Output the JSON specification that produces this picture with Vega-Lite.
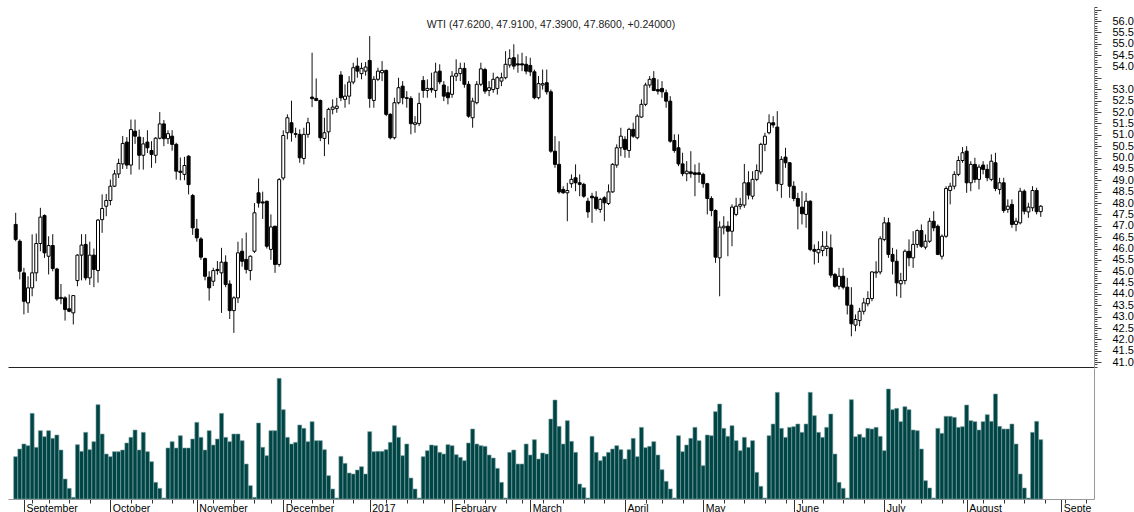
{
  "$schema": "https://vega.github.io/schema/vega-lite/v6.json",
  "padding": {"left": 8, "top": 6, "right": 0, "bottom": 0},
  "background": "white",
  "spacing": 0,
  "config": {
    "view": {"stroke": null},
    "axis": {"grid": false, "title": null, "labelFont": "Liberation Sans", "labelColor": "#000", "labelOverlap": false, "labelFlush": false, "labelBound": false}
  },
  "datasets": {
    "wti": [
      {"day":-2,"open":47.06,"high":47.57,"low":46.32,"close":46.40,"volume":127},
      {"day":-1,"open":46.32,"high":46.40,"low":44.64,"close":45.00,"volume":150},
      {"day":0,"open":44.93,"high":45.15,"low":43.10,"close":43.68,"volume":165},
      {"day":1,"open":43.61,"high":44.78,"low":43.17,"close":44.27,"volume":160},
      {"day":2,"open":44.27,"high":46.62,"low":43.90,"close":44.93,"volume":257},
      {"day":3,"open":44.93,"high":46.66,"low":44.56,"close":46.22,"volume":155},
      {"day":4,"open":46.22,"high":47.79,"low":45.88,"close":47.38,"volume":205},
      {"day":5,"open":47.45,"high":47.50,"low":45.59,"close":45.81,"volume":187},
      {"day":6,"open":45.66,"high":46.54,"low":44.86,"close":46.13,"volume":205},
      {"day":7,"open":46.13,"high":46.63,"low":45.00,"close":45.12,"volume":182},
      {"day":8,"open":45.10,"high":45.15,"low":43.70,"close":43.78,"volume":192},
      {"day":9,"open":43.80,"high":44.44,"low":43.55,"close":43.85,"volume":147},
      {"day":10,"open":43.83,"high":43.90,"low":42.83,"close":43.32,"volume":60},
      {"day":11,"open":43.35,"high":43.98,"low":43.20,"close":43.24,"volume":32},
      {"day":12,"open":43.17,"high":43.95,"low":42.66,"close":43.93,"volume":5},
      {"day":13,"open":44.59,"high":45.75,"low":44.34,"close":45.71,"volume":163},
      {"day":14,"open":45.71,"high":46.63,"low":44.60,"close":46.15,"volume":143},
      {"day":15,"open":46.18,"high":46.63,"low":44.60,"close":44.71,"volume":200},
      {"day":16,"open":44.71,"high":46.30,"low":44.40,"close":45.71,"volume":148},
      {"day":17,"open":45.71,"high":46.00,"low":44.30,"close":45.08,"volume":172},
      {"day":18,"open":45.03,"high":47.30,"low":44.50,"close":47.25,"volume":283},
      {"day":19,"open":47.27,"high":48.38,"low":46.69,"close":47.76,"volume":195},
      {"day":20,"open":47.86,"high":48.40,"low":47.42,"close":48.11,"volume":135},
      {"day":21,"open":48.11,"high":49.03,"low":47.90,"close":48.74,"volume":127},
      {"day":22,"open":48.74,"high":49.45,"low":48.70,"close":49.28,"volume":142},
      {"day":23,"open":49.28,"high":49.95,"low":49.10,"close":49.74,"volume":142},
      {"day":24,"open":49.72,"high":50.95,"low":49.50,"close":50.62,"volume":147},
      {"day":25,"open":50.68,"high":50.90,"low":49.50,"close":49.67,"volume":168},
      {"day":26,"open":49.67,"high":51.67,"low":49.25,"close":51.23,"volume":185},
      {"day":27,"open":51.16,"high":51.67,"low":50.60,"close":50.94,"volume":207},
      {"day":28,"open":50.90,"high":51.23,"low":49.47,"close":50.10,"volume":147},
      {"day":29,"open":50.10,"high":50.90,"low":49.47,"close":50.60,"volume":200},
      {"day":30,"open":50.68,"high":51.20,"low":50.20,"close":50.43,"volume":142},
      {"day":31,"open":50.31,"high":50.72,"low":49.55,"close":50.14,"volume":112},
      {"day":32,"open":50.10,"high":50.90,"low":49.75,"close":50.85,"volume":50},
      {"day":33,"open":50.85,"high":52.00,"low":50.80,"close":51.48,"volume":32},
      {"day":34,"open":51.48,"high":51.65,"low":50.50,"close":50.83,"volume":3},
      {"day":35,"open":50.83,"high":51.20,"low":50.60,"close":51.05,"volume":153},
      {"day":36,"open":50.94,"high":51.20,"low":50.30,"close":50.58,"volume":172},
      {"day":37,"open":50.58,"high":50.65,"low":49.03,"close":49.40,"volume":153},
      {"day":38,"open":49.40,"high":50.00,"low":49.00,"close":49.35,"volume":190},
      {"day":39,"open":49.26,"high":50.03,"low":49.00,"close":49.65,"volume":153},
      {"day":40,"open":50.06,"high":50.10,"low":48.38,"close":48.81,"volume":153},
      {"day":41,"open":48.33,"high":48.40,"low":46.60,"close":46.91,"volume":180},
      {"day":42,"open":46.86,"high":47.30,"low":46.30,"close":46.47,"volume":230},
      {"day":43,"open":46.42,"high":46.50,"low":45.50,"close":45.62,"volume":185},
      {"day":44,"open":45.56,"high":45.60,"low":44.60,"close":44.78,"volume":147},
      {"day":45,"open":44.74,"high":45.00,"low":43.71,"close":44.27,"volume":205},
      {"day":46,"open":44.56,"high":45.15,"low":44.35,"close":45.03,"volume":162},
      {"day":47,"open":45.08,"high":45.45,"low":44.85,"close":45.03,"volume":180},
      {"day":48,"open":44.93,"high":46.03,"low":43.17,"close":45.40,"volume":257},
      {"day":49,"open":45.40,"high":45.70,"low":44.30,"close":44.42,"volume":185},
      {"day":50,"open":44.44,"high":44.60,"low":42.90,"close":43.27,"volume":172},
      {"day":51,"open":43.27,"high":43.90,"low":42.29,"close":43.83,"volume":195},
      {"day":52,"open":43.83,"high":46.30,"low":43.60,"close":45.81,"volume":195},
      {"day":53,"open":45.88,"high":46.45,"low":45.20,"close":45.44,"volume":175},
      {"day":54,"open":45.52,"high":46.70,"low":44.90,"close":45.08,"volume":105},
      {"day":55,"open":45.03,"high":45.70,"low":44.60,"close":45.66,"volume":40},
      {"day":56,"open":45.88,"high":48.00,"low":45.80,"close":47.57,"volume":5},
      {"day":57,"open":48.45,"high":49.08,"low":47.80,"close":48.00,"volume":228},
      {"day":58,"open":48.05,"high":48.50,"low":47.30,"close":48.00,"volume":155},
      {"day":59,"open":48.08,"high":48.10,"low":46.00,"close":46.10,"volume":130},
      {"day":60,"open":45.96,"high":47.50,"low":45.50,"close":46.95,"volume":205},
      {"day":61,"open":46.98,"high":47.00,"low":44.93,"close":45.30,"volume":205},
      {"day":62,"open":45.30,"high":49.10,"low":45.20,"close":49.03,"volume":362},
      {"day":63,"open":49.10,"high":51.20,"low":49.00,"close":50.97,"volume":268},
      {"day":64,"open":51.09,"high":51.90,"low":50.80,"close":51.75,"volume":185},
      {"day":65,"open":51.53,"high":52.50,"low":50.70,"close":51.09,"volume":165},
      {"day":66,"open":51.05,"high":51.31,"low":50.87,"close":51.02,"volume":170},
      {"day":67,"open":51.02,"high":51.24,"low":49.77,"close":49.99,"volume":222},
      {"day":68,"open":49.96,"high":51.31,"low":49.70,"close":51.02,"volume":212},
      {"day":69,"open":51.02,"high":51.75,"low":50.87,"close":51.53,"volume":172},
      {"day":70,"open":52.66,"high":54.61,"low":52.22,"close":52.59,"volume":232},
      {"day":71,"open":52.60,"high":53.48,"low":52.48,"close":52.51,"volume":175},
      {"day":72,"open":52.51,"high":52.55,"low":50.72,"close":50.87,"volume":175},
      {"day":73,"open":50.84,"high":51.75,"low":50.06,"close":51.09,"volume":148},
      {"day":74,"open":51.13,"high":52.19,"low":50.58,"close":52.12,"volume":70},
      {"day":75,"open":52.12,"high":52.56,"low":51.90,"close":52.22,"volume":30},
      {"day":76,"open":52.16,"high":52.63,"low":51.97,"close":52.26,"volume":3},
      {"day":77,"open":53.63,"high":53.80,"low":52.48,"close":52.63,"volume":128},
      {"day":78,"open":52.56,"high":53.22,"low":52.19,"close":52.70,"volume":107},
      {"day":79,"open":52.70,"high":53.58,"low":52.34,"close":53.32,"volume":78},
      {"day":80,"open":53.32,"high":54.17,"low":53.22,"close":53.95,"volume":75},
      {"day":81,"open":54.02,"high":54.39,"low":53.51,"close":53.80,"volume":87},
      {"day":82,"open":53.69,"high":54.17,"low":53.44,"close":53.92,"volume":97},
      {"day":83,"open":53.80,"high":54.20,"low":53.60,"close":53.98,"volume":75},
      {"day":84,"open":54.27,"high":55.34,"low":52.19,"close":52.60,"volume":202},
      {"day":85,"open":52.51,"high":53.58,"low":52.19,"close":53.44,"volume":142},
      {"day":86,"open":53.44,"high":53.95,"low":53.36,"close":53.80,"volume":143},
      {"day":87,"open":53.73,"high":54.24,"low":53.36,"close":53.83,"volume":143},
      {"day":88,"open":53.83,"high":53.87,"low":51.82,"close":51.90,"volume":148},
      {"day":89,"open":51.90,"high":51.95,"low":50.80,"close":50.87,"volume":170},
      {"day":90,"open":50.87,"high":52.63,"low":50.80,"close":52.41,"volume":220},
      {"day":91,"open":52.41,"high":53.51,"low":52.34,"close":53.07,"volume":185},
      {"day":92,"open":53.14,"high":53.36,"low":52.34,"close":52.63,"volume":130},
      {"day":93,"open":52.63,"high":52.92,"low":52.19,"close":52.60,"volume":165},
      {"day":94,"open":52.60,"high":52.70,"low":51.02,"close":51.49,"volume":63},
      {"day":95,"open":51.46,"high":51.82,"low":51.09,"close":51.53,"volume":30},
      {"day":96,"open":51.49,"high":52.85,"low":51.38,"close":52.38,"volume":3},
      {"day":97,"open":53.39,"high":53.58,"low":52.63,"close":52.95,"volume":127},
      {"day":98,"open":52.95,"high":53.44,"low":52.63,"close":53.04,"volume":145},
      {"day":99,"open":53.04,"high":53.73,"low":52.85,"close":52.98,"volume":162},
      {"day":100,"open":52.95,"high":54.17,"low":52.63,"close":53.76,"volume":160},
      {"day":101,"open":53.80,"high":54.10,"low":53.22,"close":53.33,"volume":140},
      {"day":102,"open":53.19,"high":53.36,"low":52.48,"close":52.70,"volume":135},
      {"day":103,"open":52.85,"high":53.14,"low":52.34,"close":52.63,"volume":163},
      {"day":104,"open":52.78,"high":53.80,"low":52.63,"close":53.58,"volume":160},
      {"day":105,"open":53.58,"high":54.32,"low":53.36,"close":53.69,"volume":133},
      {"day":106,"open":53.69,"high":54.17,"low":53.36,"close":53.92,"volume":125},
      {"day":107,"open":53.92,"high":54.17,"low":53.07,"close":53.22,"volume":115},
      {"day":108,"open":53.22,"high":53.36,"low":51.75,"close":51.82,"volume":168},
      {"day":109,"open":51.75,"high":52.63,"low":51.31,"close":52.48,"volume":210},
      {"day":110,"open":52.41,"high":53.36,"low":52.34,"close":53.22,"volume":165},
      {"day":111,"open":53.22,"high":54.17,"low":53.14,"close":53.90,"volume":160},
      {"day":112,"open":53.87,"high":53.95,"low":52.80,"close":52.92,"volume":158},
      {"day":113,"open":52.95,"high":53.36,"low":52.70,"close":53.07,"volume":132},
      {"day":114,"open":52.99,"high":53.73,"low":52.85,"close":53.44,"volume":123},
      {"day":115,"open":53.04,"high":53.58,"low":52.77,"close":53.51,"volume":92},
      {"day":116,"open":53.36,"high":53.73,"low":53.14,"close":53.51,"volume":50},
      {"day":117,"open":53.51,"high":54.68,"low":53.44,"close":54.10,"volume":3},
      {"day":118,"open":54.07,"high":54.76,"low":53.95,"close":54.36,"volume":140},
      {"day":119,"open":54.39,"high":54.98,"low":53.87,"close":54.02,"volume":147},
      {"day":120,"open":54.12,"high":54.54,"low":53.73,"close":54.07,"volume":105},
      {"day":121,"open":54.12,"high":54.61,"low":53.80,"close":54.07,"volume":105},
      {"day":122,"open":54.10,"high":54.46,"low":53.66,"close":53.80,"volume":165},
      {"day":123,"open":54.05,"high":54.39,"low":53.58,"close":53.77,"volume":132},
      {"day":124,"open":53.77,"high":53.87,"low":52.56,"close":52.63,"volume":178},
      {"day":125,"open":52.63,"high":53.58,"low":52.56,"close":53.25,"volume":120},
      {"day":126,"open":53.19,"high":53.87,"low":52.99,"close":53.25,"volume":138},
      {"day":127,"open":53.29,"high":53.87,"low":52.77,"close":52.89,"volume":135},
      {"day":128,"open":52.89,"high":52.99,"low":50.21,"close":50.28,"volume":240},
      {"day":129,"open":50.28,"high":50.94,"low":49.55,"close":49.70,"volume":297},
      {"day":130,"open":49.70,"high":50.72,"low":48.41,"close":48.49,"volume":218},
      {"day":131,"open":48.60,"high":48.74,"low":48.41,"close":48.45,"volume":165},
      {"day":132,"open":48.45,"high":48.89,"low":47.20,"close":48.55,"volume":235},
      {"day":133,"open":48.85,"high":49.26,"low":48.67,"close":49.04,"volume":173},
      {"day":134,"open":49.11,"high":49.70,"low":48.52,"close":48.89,"volume":140},
      {"day":135,"open":48.89,"high":49.26,"low":48.30,"close":48.82,"volume":45},
      {"day":136,"open":48.82,"high":48.89,"low":48.23,"close":48.30,"volume":34},
      {"day":137,"open":48.08,"high":48.23,"low":47.35,"close":47.61,"volume":3},
      {"day":138,"open":48.30,"high":48.45,"low":47.13,"close":48.23,"volume":188},
      {"day":139,"open":48.26,"high":48.52,"low":47.67,"close":47.76,"volume":140},
      {"day":140,"open":47.72,"high":48.23,"low":47.57,"close":48.16,"volume":115},
      {"day":141,"open":48.23,"high":48.30,"low":47.20,"close":48.01,"volume":128},
      {"day":142,"open":47.98,"high":48.82,"low":47.91,"close":48.49,"volume":140},
      {"day":143,"open":48.49,"high":49.75,"low":48.45,"close":49.70,"volume":150},
      {"day":144,"open":49.67,"high":50.58,"low":49.55,"close":50.43,"volume":160},
      {"day":145,"open":50.43,"high":51.31,"low":50.06,"close":50.94,"volume":148},
      {"day":146,"open":50.80,"high":50.94,"low":49.99,"close":50.36,"volume":120},
      {"day":147,"open":50.31,"high":51.31,"low":49.99,"close":51.24,"volume":148},
      {"day":148,"open":51.24,"high":51.53,"low":50.87,"close":50.94,"volume":182},
      {"day":149,"open":50.87,"high":51.90,"low":50.80,"close":51.82,"volume":127},
      {"day":150,"open":51.78,"high":52.56,"low":51.75,"close":52.34,"volume":215},
      {"day":151,"open":52.34,"high":53.29,"low":52.26,"close":53.19,"volume":154},
      {"day":152,"open":53.19,"high":53.58,"low":53.07,"close":53.44,"volume":158},
      {"day":153,"open":53.48,"high":53.80,"low":52.92,"close":52.95,"volume":172},
      {"day":154,"open":52.99,"high":53.44,"low":52.77,"close":52.92,"volume":132},
      {"day":155,"open":53.04,"high":53.36,"low":52.63,"close":52.89,"volume":88},
      {"day":156,"open":52.85,"high":52.99,"low":52.19,"close":52.48,"volume":53},
      {"day":157,"open":52.48,"high":52.70,"low":50.65,"close":50.72,"volume":30},
      {"day":158,"open":50.75,"high":51.02,"low":50.21,"close":50.31,"volume":3},
      {"day":159,"open":50.43,"high":51.02,"low":49.62,"close":49.72,"volume":190},
      {"day":160,"open":49.72,"high":50.21,"low":49.18,"close":49.29,"volume":142},
      {"day":161,"open":49.29,"high":49.84,"low":48.96,"close":49.40,"volume":162},
      {"day":162,"open":49.37,"high":50.28,"low":49.11,"close":49.29,"volume":182},
      {"day":163,"open":49.33,"high":49.70,"low":48.30,"close":49.26,"volume":215},
      {"day":164,"open":49.33,"high":49.77,"low":48.89,"close":49.26,"volume":175},
      {"day":165,"open":49.26,"high":49.33,"low":48.67,"close":48.85,"volume":100},
      {"day":166,"open":48.85,"high":48.89,"low":47.50,"close":48.20,"volume":192},
      {"day":167,"open":48.20,"high":48.30,"low":47.42,"close":47.67,"volume":190},
      {"day":168,"open":47.67,"high":47.72,"low":45.37,"close":45.62,"volume":262},
      {"day":169,"open":45.59,"high":47.20,"low":43.90,"close":46.94,"volume":285},
      {"day":170,"open":46.91,"high":47.42,"low":46.62,"close":46.98,"volume":212},
      {"day":171,"open":46.98,"high":47.20,"low":45.66,"close":46.76,"volume":188},
      {"day":172,"open":46.76,"high":47.94,"low":46.10,"close":47.82,"volume":220},
      {"day":173,"open":47.50,"high":48.23,"low":47.42,"close":47.86,"volume":175},
      {"day":174,"open":47.86,"high":48.23,"low":47.72,"close":47.94,"volume":145},
      {"day":175,"open":47.91,"high":49.72,"low":47.79,"close":48.89,"volume":185},
      {"day":176,"open":48.89,"high":49.40,"low":48.16,"close":48.35,"volume":155},
      {"day":177,"open":48.30,"high":49.40,"low":48.16,"close":49.04,"volume":175},
      {"day":178,"open":49.04,"high":49.70,"low":48.96,"close":49.43,"volume":80},
      {"day":179,"open":49.37,"high":50.65,"low":49.26,"close":50.58,"volume":38},
      {"day":180,"open":50.58,"high":51.09,"low":50.28,"close":50.94,"volume":3},
      {"day":181,"open":51.09,"high":51.90,"low":51.02,"close":51.53,"volume":190},
      {"day":182,"open":51.53,"high":51.82,"low":51.31,"close":51.43,"volume":225},
      {"day":183,"open":51.34,"high":52.04,"low":48.52,"close":48.85,"volume":320},
      {"day":184,"open":48.82,"high":50.06,"low":48.23,"close":49.92,"volume":212},
      {"day":185,"open":50.02,"high":50.43,"low":49.55,"close":49.77,"volume":185},
      {"day":186,"open":49.77,"high":49.80,"low":48.23,"close":48.74,"volume":215},
      {"day":187,"open":48.74,"high":48.96,"low":48.08,"close":48.20,"volume":217},
      {"day":188,"open":48.20,"high":48.45,"low":46.84,"close":47.86,"volume":225},
      {"day":189,"open":47.82,"high":48.52,"low":47.06,"close":47.53,"volume":200},
      {"day":190,"open":47.50,"high":48.45,"low":46.91,"close":48.08,"volume":225},
      {"day":191,"open":48.08,"high":48.12,"low":45.88,"close":45.96,"volume":320},
      {"day":192,"open":45.96,"high":46.18,"low":45.30,"close":45.88,"volume":250},
      {"day":193,"open":45.81,"high":46.32,"low":45.37,"close":45.96,"volume":200},
      {"day":194,"open":45.91,"high":46.76,"low":45.66,"close":46.10,"volume":185},
      {"day":195,"open":46.00,"high":46.76,"low":45.66,"close":46.10,"volume":215},
      {"day":196,"open":46.03,"high":46.62,"low":44.71,"close":44.83,"volume":255},
      {"day":197,"open":44.86,"high":44.93,"low":44.27,"close":44.34,"volume":135},
      {"day":198,"open":44.34,"high":45.15,"low":44.20,"close":44.78,"volume":50},
      {"day":199,"open":44.78,"high":45.15,"low":44.20,"close":44.30,"volume":32},
      {"day":200,"open":44.30,"high":44.71,"low":43.10,"close":43.51,"volume":3},
      {"day":201,"open":43.51,"high":44.30,"low":42.14,"close":42.69,"volume":298},
      {"day":202,"open":42.63,"high":43.10,"low":42.36,"close":42.88,"volume":187},
      {"day":203,"open":42.83,"high":43.39,"low":42.58,"close":43.24,"volume":194},
      {"day":204,"open":43.24,"high":43.83,"low":43.10,"close":43.61,"volume":185},
      {"day":205,"open":43.57,"high":44.12,"low":43.46,"close":43.80,"volume":212},
      {"day":206,"open":43.80,"high":45.00,"low":43.68,"close":44.97,"volume":210},
      {"day":207,"open":44.93,"high":45.44,"low":44.71,"close":44.97,"volume":215},
      {"day":208,"open":44.97,"high":46.54,"low":44.86,"close":46.43,"volume":188},
      {"day":209,"open":46.40,"high":47.38,"low":46.32,"close":47.13,"volume":145},
      {"day":210,"open":47.13,"high":47.35,"low":45.59,"close":45.74,"volume":330},
      {"day":211,"open":45.74,"high":46.03,"low":44.86,"close":45.44,"volume":268},
      {"day":212,"open":45.44,"high":45.96,"low":43.90,"close":44.49,"volume":272},
      {"day":213,"open":44.45,"high":44.93,"low":43.83,"close":44.59,"volume":232},
      {"day":214,"open":44.59,"high":45.96,"low":44.42,"close":45.88,"volume":277},
      {"day":215,"open":45.88,"high":46.40,"low":45.22,"close":45.59,"volume":268},
      {"day":216,"open":45.59,"high":46.76,"low":45.15,"close":46.18,"volume":207},
      {"day":217,"open":46.18,"high":46.84,"low":46.03,"close":46.79,"volume":205},
      {"day":218,"open":46.79,"high":47.06,"low":46.03,"close":46.10,"volume":150},
      {"day":219,"open":46.06,"high":46.62,"low":45.96,"close":46.32,"volume":55},
      {"day":220,"open":46.32,"high":47.35,"low":46.25,"close":47.20,"volume":33},
      {"day":221,"open":47.20,"high":47.64,"low":46.76,"close":46.91,"volume":3},
      {"day":222,"open":46.98,"high":47.06,"low":45.71,"close":45.74,"volume":212},
      {"day":223,"open":45.66,"high":46.62,"low":45.52,"close":46.54,"volume":197},
      {"day":224,"open":46.54,"high":48.74,"low":46.47,"close":48.64,"volume":248},
      {"day":225,"open":48.55,"high":48.89,"low":47.94,"close":48.74,"volume":248},
      {"day":226,"open":48.74,"high":49.40,"low":48.60,"close":49.26,"volume":245},
      {"day":227,"open":49.26,"high":50.06,"low":49.18,"close":49.87,"volume":215},
      {"day":228,"open":49.87,"high":50.46,"low":49.77,"close":50.21,"volume":217},
      {"day":229,"open":50.28,"high":50.50,"low":48.45,"close":48.89,"volume":282},
      {"day":230,"open":48.89,"high":49.84,"low":48.52,"close":49.70,"volume":235},
      {"day":231,"open":49.70,"high":49.99,"low":48.89,"close":49.04,"volume":232},
      {"day":232,"open":49.04,"high":49.70,"low":48.60,"close":49.58,"volume":207},
      {"day":233,"open":49.67,"high":49.84,"low":49.26,"close":49.48,"volume":232},
      {"day":234,"open":49.48,"high":49.70,"low":48.96,"close":49.11,"volume":253},
      {"day":235,"open":49.04,"high":50.14,"low":48.96,"close":49.84,"volume":233},
      {"day":236,"open":49.77,"high":50.21,"low":48.52,"close":48.64,"volume":315},
      {"day":237,"open":48.60,"high":49.11,"low":48.38,"close":48.89,"volume":218},
      {"day":238,"open":48.89,"high":49.11,"low":47.57,"close":47.67,"volume":210},
      {"day":239,"open":47.72,"high":48.16,"low":47.57,"close":47.86,"volume":210},
      {"day":240,"open":47.94,"high":48.16,"low":46.91,"close":47.06,"volume":225},
      {"day":241,"open":47.06,"high":47.35,"low":46.76,"close":47.20,"volume":165},
      {"day":242,"open":47.13,"high":48.67,"low":47.06,"close":48.52,"volume":75},
      {"day":243,"open":48.52,"high":48.60,"low":47.50,"close":47.64,"volume":33},
      {"day":244,"open":47.61,"high":48.01,"low":47.35,"close":47.82,"volume":3},
      {"day":245,"open":47.79,"high":48.74,"low":47.64,"close":48.55,"volume":200},
      {"day":246,"open":48.55,"high":48.67,"low":47.50,"close":47.62,"volume":233},
      {"day":247,"open":47.62,"high":47.91,"low":47.39,"close":47.86,"volume":178}
    ]
  },
  "vconcat": [
    {
      "width": 1086,
      "height": 360,
      "data": {"name": "wti"},
      "title": {
        "text": "WTI (47.6200, 47.9100, 47.3900, 47.8600, +0.24000)",
        "anchor": "middle",
        "frame": "group",
        "offset": -24,
        "font": "Liberation Sans",
        "fontSize": 10.5,
        "fontWeight": "normal",
        "color": "#222"
      },
      "encoding": {
        "x": {
          "field": "day",
          "type": "quantitative",
          "scale": {"domain": [-2.65, 258.72], "nice": false, "zero": false},
          "axis": {"orient": "bottom", "ticks": false, "labels": false, "domain": true, "domainColor": "#222", "domainWidth": 1}
        }
      },
      "layer": [
        {
          "mark": {"type": "rule", "color": "#111", "strokeWidth": 1},
          "encoding": {
            "y": {
              "field": "low",
              "type": "quantitative",
              "scale": {"domain": [40.79, 56.62], "nice": false, "zero": false},
              "axis": {
                "orient": "right",
                "tickCount": 160,
                "domainColor": "#999",
                "tickColor": "#444",
                "tickSize": {"condition": {"test": "abs(datum.value*2-round(datum.value*2))<0.001", "value": 7}, "value": 3},
                "labelExpr": "(abs(datum.value*2-round(datum.value*2))<0.001 && datum.value<56.1 && datum.value>40.9 && abs(datum.value-53.5)>0.01) ? format(datum.value,'.1f') : ''",
                "labelFontSize": {"condition": {"test": "abs(datum.value*2-round(datum.value*2))<0.001 && datum.value<56.1 && datum.value>40.9 && abs(datum.value-53.5)>0.01", "value": 11}, "value": 0},
                "labelPadding": 11,
                "labelAlign": "left",
                "labelBaseline": "middle"
              }
            },
            "y2": {"field": "high"}
          }
        },
        {
          "mark": {"type": "bar", "size": 3, "stroke": "#000", "strokeWidth": 1},
          "encoding": {
            "y": {"field": "open", "type": "quantitative"},
            "y2": {"field": "close"},
            "fill": {"condition": {"test": "datum.close < datum.open", "value": "#000"}, "value": "#fff"}
          }
        }
      ]
    },
    {
      "width": 1086,
      "height": 131,
      "data": {"name": "wti"},
      "mark": {"type": "bar", "size": 4, "fill": "#004545", "stroke": "#7aa0a0", "strokeWidth": 0.6},
      "encoding": {
        "x": {
          "field": "day",
          "type": "quantitative",
          "scale": {"domain": [-2.65, 258.72], "nice": false, "zero": false},
          "axis": {
            "orient": "bottom",
            "values": [0,2,6,11,16,21,26,31,36,41,42,46,51,56,60,63,65,70,75,80,84,88,93,97,102,104,107,112,117,121,123,126,131,136,141,146,151,155,160,165,170,175,180,185,187,189,194,199,204,209,213,218,223,228,229,233,238,243,248,252,253,258],
            "domainColor": "#999",
            "tickColor": "#333",
            "tickSize": {"condition": {"test": "indexof([0,21,42,63,84,104,123,146,165,187,209,229,252], datum.value) >= 0", "value": 15}, "value": 4},
            "labelExpr": "indexof([0,21,42,63,84,104,123,146,165,187,209,229,252], datum.value) >= 0 ? ['September','October','November','December','2017','February','March','April','May','June','July','August','Septe'][indexof([0,21,42,63,84,104,123,146,165,187,209,229,252], datum.value)] : ''",
            "labelFontSize": {"condition": {"test": "indexof([0,21,42,63,84,104,123,146,165,187,209,229,252], datum.value) >= 0", "value": 10.5}, "value": 0},
            "labelAlign": "left",
            "labelBaseline": "top",
            "labelOffset": 2,
            "labelPadding": -11
          }
        },
        "y": {
          "field": "volume",
          "type": "quantitative",
          "scale": {"domain": [0, 393], "nice": false, "zero": true},
          "axis": {"orient": "right", "ticks": false, "labels": false, "domain": true, "domainColor": "#999"}
        }
      }
    }
  ]
}
